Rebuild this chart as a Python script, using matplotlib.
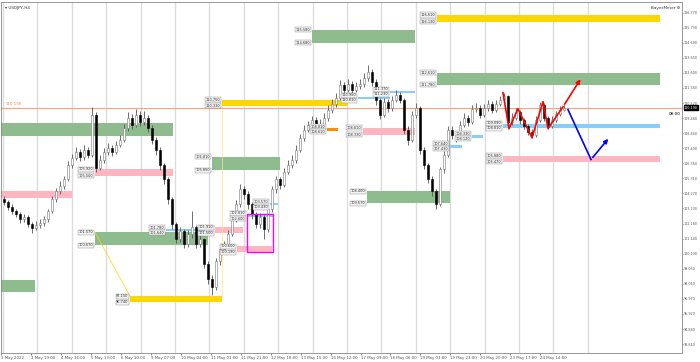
import numpy as np
import matplotlib.pyplot as plt
from matplotlib.patches import Rectangle
from matplotlib.transforms import blended_transform_factory

# candle data (4 px per candle in the reference)
first_open = 103.90
closes = [103.64, 103.29, 103.02, 102.81, 102.47, 102.60, 102.12, 101.84, 102.05, 102.19,
          102.47, 103.02, 103.85, 104.40, 104.81, 105.23, 106.26, 106.74, 107.16, 106.81,
          107.30, 106.95, 109.71, 106.05, 106.61, 107.16, 107.43, 107.16, 107.64, 107.99,
          108.81, 109.50, 109.02, 109.71, 109.23, 109.50, 108.81, 107.99, 107.30, 106.26,
          105.23, 103.85, 102.12, 101.09, 101.64, 100.74, 101.43, 101.91, 100.74, 101.09,
          99.36, 98.33, 97.77, 99.57, 100.40, 100.74, 101.43, 102.47, 103.50, 104.54,
          104.19, 103.50, 102.81, 102.12, 102.60, 101.78, 103.16, 104.54, 105.23, 104.88,
          105.78, 106.26, 106.61, 107.30, 108.12, 108.68, 109.02, 109.37, 108.88, 109.09,
          109.50, 110.06, 110.47, 110.88, 111.78, 111.44, 111.85, 111.44, 111.71, 111.85,
          112.26, 112.68, 111.99, 110.75, 109.71, 110.61, 110.19, 110.75, 111.09, 110.75,
          108.68, 107.99, 109.71, 110.19, 107.30, 106.26, 105.23, 104.40, 103.50, 105.92,
          106.95, 108.68, 108.33, 108.12, 109.02, 109.50, 109.23, 110.12, 110.19, 109.71,
          110.19, 110.47, 110.06, 110.47, 110.75, 111.02, 109.23, 109.50, 109.92, 109.37,
          108.95, 108.54, 108.33, 109.37, 110.40, 109.50, 108.95, 109.37, 109.78, 110.06,
          110.19]
highs = [104.10, 103.80, 103.50, 103.20, 102.95, 102.85, 102.75, 102.30, 102.35, 102.50,
         102.70, 103.20, 104.10, 104.65, 105.10, 105.50, 106.50, 107.00, 107.45, 107.35,
         107.60, 107.50, 110.26, 109.90, 106.90, 107.40, 107.75, 107.60, 107.90, 108.30,
         109.05, 109.90, 109.75, 110.10, 109.95, 110.00, 109.70, 109.00, 108.20, 107.50,
         106.40, 105.40, 104.00, 102.30, 101.95, 101.80, 101.70, 103.02, 102.10, 101.40,
         101.20, 99.60, 98.60, 99.80, 100.70, 101.00, 101.70, 102.70, 103.80, 104.90,
         104.75, 104.40, 103.70, 103.00, 102.90, 102.80, 103.40, 104.80, 105.50, 105.40,
         106.00, 106.55, 106.90, 107.60, 108.40, 109.00, 109.30, 109.65, 109.55, 109.40,
         109.80, 110.35, 110.80, 111.20, 112.10, 112.00, 112.15, 112.05, 112.00, 112.20,
         112.60, 113.16, 112.90, 112.20, 110.90, 110.90, 110.80, 111.00, 111.40, 111.30,
         110.90, 108.90, 109.95, 110.50, 110.30, 107.50, 106.40, 105.50, 104.60, 106.10,
         107.20, 108.95, 108.90, 108.50, 109.30, 109.80, 109.70, 110.35, 110.50, 110.40,
         110.45, 110.75, 110.65, 110.70, 111.00, 111.23, 111.10, 109.80, 110.18, 110.05,
         109.50, 109.10, 108.70, 109.60, 110.61, 110.55, 109.60, 109.60, 110.00, 110.30,
         110.40]
lows = [103.45, 103.10, 102.85, 102.60, 102.20, 102.30, 101.95, 101.55, 101.70, 101.90,
        102.00, 102.30, 102.90, 103.70, 104.20, 104.60, 105.10, 106.00, 106.55, 106.50,
        106.60, 106.70, 106.80, 105.78, 105.85, 106.40, 106.95, 106.85, 107.00, 107.45,
        107.80, 108.60, 108.70, 108.85, 108.95, 109.00, 108.50, 107.70, 106.95, 105.90,
        104.90, 103.50, 101.80, 100.80, 100.90, 100.50, 100.55, 101.20, 100.50, 100.55,
        99.10, 98.00, 97.22, 97.60, 99.30, 100.10, 100.50, 101.30, 102.30, 103.30,
        103.90, 103.20, 102.50, 101.85, 101.90, 101.09, 101.60, 103.00, 104.30, 104.60,
        104.70, 105.60, 106.00, 106.40, 107.10, 107.90, 108.50, 108.85, 108.60, 108.70,
        108.90, 109.30, 109.85, 110.25, 110.70, 111.15, 111.25, 111.20, 111.25, 111.50,
        111.65, 112.05, 111.70, 110.40, 109.40, 109.55, 109.90, 110.00, 110.60, 110.50,
        108.40, 107.60, 107.80, 109.50, 107.00, 105.95, 104.95, 104.10, 103.16, 103.40,
        105.70, 106.80, 108.05, 107.80, 107.95, 108.85, 108.95, 109.05, 109.90, 109.45,
        109.55, 110.00, 109.85, 109.90, 110.30, 110.60, 108.75, 109.00, 109.35, 109.10,
        108.70, 108.30, 108.12, 108.20, 109.20, 109.25, 108.75, 108.80, 109.20, 109.60,
        109.95]
opens = [first_open] + closes[:-1]
bid = 110.19

# supply / demand zones: start, end (candle index), top, bottom, colour, labelled
zones = [
    (-1, 42.25, 109.16, 108.26, '#8fbc8f', False),
    (-1, 17, 104.40, 103.98, '#ffb6c1', False),
    (-1, 7.75, 98.26, 97.43, '#8fbc8f', False),
    (22.75, 42.25, 105.92, 105.50, '#ffb6c1', True),
    (22.75, 51, 101.57, 100.67, '#8fbc8f', True),
    (40.5, 50.25, 101.78, 101.64, '#87cefa', True),
    (52.75, 59.75, 101.91, 101.50, '#ffb6c1', True),
    (58.25, 67, 100.60, 100.19, '#ffb6c1', True),
    (60.75, 67.25, 102.81, 102.60, '#87cefa', True),
    (66.5, 68.5, 103.57, 103.43, '#87cefa', True),
    (31.5, 54.5, 97.15, 96.74, '#ffd700', True),
    (52, 69, 106.81, 105.85, '#8fbc8f', True),
    (54.5, 86, 110.75, 110.33, '#ffd700', True),
    (77, 102.75, 115.58, 114.68, '#8fbc8f', True),
    (88.5, 96.5, 110.95, 110.81, '#87cefa', True),
    (96.5, 102.75, 111.37, 111.23, '#87cefa', True),
    (80.75, 83.5, 108.81, 108.61, '#ff8c00', True),
    (89.75, 102.75, 108.81, 108.33, '#ffb6c1', True),
    (90.75, 111.5, 104.40, 103.57, '#8fbc8f', True),
    (108.25, 164, 116.61, 116.13, '#ffd700', True),
    (108.25, 164, 112.61, 111.78, '#8fbc8f', True),
    (124.75, 164, 109.09, 108.81, '#87cefa', True),
    (124.75, 164, 106.88, 106.47, '#ffb6c1', True),
    (117, 119.75, 108.33, 108.12, '#87cefa', True),
    (111.5, 114.5, 107.64, 107.43, '#87cefa', True),
]
box = (60.75, 67.25, 102.81, 100.19)

# projected paths
red_x = [124.75, 126.25, 128.5, 132, 134.75, 136, 139.75, 144.5]
red_y = [111.23, 108.75, 110.12, 108.12, 110.61, 108.75, 110.26, 112.33]
blue_x = [141, 146.75, 151.5]
blue_y = [110.06, 106.61, 108.19]

price_ticks = [93.84, 94.88, 95.92, 96.97, 98.01, 99.05, 100.10, 101.14, 102.18, 103.23,
               104.27, 105.31, 106.35, 107.40, 108.44, 109.48, 110.52, 111.56, 112.60,
               113.65, 114.69, 115.73, 116.77]
time_labels = ['2 May 2022', '3 May 19:00', '4 May 16:00', '5 May 13:00', '6 May 10:00',
               '9 May 07:00', '10 May 04:00', '11 May 01:00', '11 May 21:00', '12 May 18:00',
               '13 May 15:00', '16 May 12:00', '17 May 09:00', '18 May 06:00', '19 May 03:00',
               '19 May 23:00', '20 May 20:00', '23 May 17:00', '24 May 14:00']

fig = plt.figure(figsize=(7, 3.62), dpi=100)
ax = fig.add_axes([1 / 700, 9 / 362, 681 / 700, 351 / 362])
ax.set_xlim(-0.75, 169.5)
ax.set_ylim(93.22, 117.51)

# vertical grid (every 34.4 px)
for k in range(18):
    ax.axvline(-0.25 + 8.6 * k, color='#dcdcdc', lw=1, zorder=0)

# zones
for x0, x1, top, bot, col, lab in zones:
    ax.add_patch(Rectangle((x0, bot), x1 - x0, top - bot, facecolor=col,
                           edgecolor='none', zorder=1))
    if lab:
        gap = max(0.0, 0.36 - (top - bot)) / 2
        for val, shift in ((top, gap), (bot, -gap)):
            ax.text(x0 - 0.4, val + shift, '%.3f' % val, ha='right', va='center',
                    fontsize=2.5, color='#333333', zorder=6,
                    bbox=dict(boxstyle='square,pad=0.15', fc='#f2f2f2', ec='#888888', lw=0.3))
ax.add_patch(Rectangle((box[0], box[3]), box[1] - box[0], box[2] - box[3], fill=False,
                       edgecolor='#ff00ff', lw=1.0, zorder=5))

# thin yellow connector lines
ax.plot([22.75, 31.5], [101.57, 97.15], color='#ffd700', lw=0.5, zorder=1)
ax.plot([54.5, 54.5], [110.33, 97.15], color='#ffe680', lw=0.5, zorder=1)

# bid line
ax.axhline(bid, color='#ffa07a', lw=0.8, zorder=2)
ax.text(0.3, bid + 0.12, '%.3f' % bid, fontsize=2.8, color='#ff7f50', va='bottom', zorder=6)

# candles
idx = np.arange(len(closes))
o = np.array(opens)
c = np.array(closes)
up = c >= o
ax.vlines(idx, lows, highs, color='#555555', lw=0.6, zorder=3)
ax.bar(idx[up], c[up] - o[up], bottom=o[up], width=0.6, facecolor='white',
       edgecolor='#777777', lw=0.4, zorder=4)
ax.bar(idx[~up], o[~up] - c[~up], bottom=c[~up], width=0.6, facecolor='black',
       edgecolor='black', lw=0.4, zorder=4)

# projections
ax.plot(red_x[:-1], red_y[:-1], color='red', lw=1.2, zorder=7)
ax.annotate('', xy=(red_x[-1], red_y[-1]), xytext=(red_x[-2], red_y[-2]),
            arrowprops=dict(arrowstyle='-|>', color='red', lw=1.2, mutation_scale=6), zorder=7)
ax.plot(blue_x[:-1], blue_y[:-1], color='blue', lw=1.2, zorder=7)
ax.annotate('', xy=(blue_x[-1], blue_y[-1]), xytext=(blue_x[-2], blue_y[-2]),
            arrowprops=dict(arrowstyle='-|>', color='blue', lw=1.2, mutation_scale=6), zorder=7)

# axes styling
ax.yaxis.tick_right()
ax.set_yticks(price_ticks)
ax.set_yticklabels(['%.3f' % t for t in price_ticks], fontsize=2.4, color='#333333')
ax.tick_params(axis='y', length=1, width=0.5, pad=0.5, colors='#555555')
label_x = [-0.75 + 7.49 * k for k in range(len(time_labels))]
ax.set_xticks(label_x)
ax.set_xticklabels(time_labels, fontsize=2.8, color='#333333', ha='left')
ax.tick_params(axis='x', length=1.5, width=0.5, pad=0.6, colors='#555555')
for s in ax.spines.values():
    s.set_color('#888888')
    s.set_linewidth(0.6)

tr = blended_transform_factory(ax.transAxes, ax.transData)
ax.text(1.003, bid, '%.3f' % bid, transform=tr, ha='left', va='center', fontsize=2.4,
        color='white', zorder=10, clip_on=False,
        bbox=dict(boxstyle='square,pad=0.15', fc='black', ec='black'))
ax.text(0.9985, bid - 0.28, '08:00', transform=tr, ha='right', va='top', fontsize=3,
        color='black', zorder=10)
ax.text(0.006, 0.99, '\u25be USDJPY,H4', transform=ax.transAxes, ha='left', va='top',
        fontsize=3, color='#333333')
ax.text(0.998, 0.99, 'BayesMeter \u2699', transform=ax.transAxes, ha='right', va='top',
        fontsize=3, color='#333333')

fig.savefig('out.png', dpi=100)
